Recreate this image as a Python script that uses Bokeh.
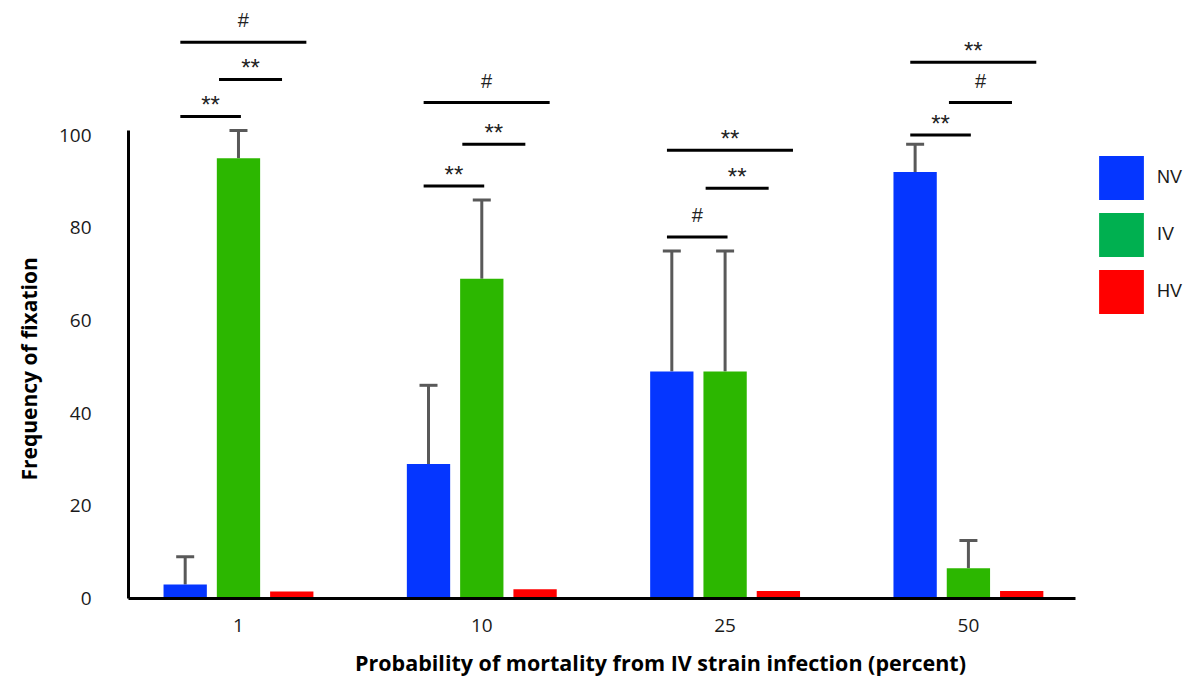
from bokeh.plotting import figure
from bokeh.models import (FixedTicker, Legend, LegendItem, ColumnDataSource,
                          Whisker, TeeHead, Range1d, Title)
from bokeh.embed import file_html
from bokeh.resources import INLINE

# ---------------- data ----------------
groups = ["1", "10", "25", "50"]
series = ["NV", "IV", "HV"]
nv = [3.0, 29.0, 49.0, 92.0]
iv = [95.0, 69.0, 49.0, 6.5]
hv = [1.5, 2.0, 1.6, 1.6]
nv_err = [6.0, 17.0, 26.0, 6.0]
iv_err = [6.0, 17.0, 26.0, 6.0]
y_ticks = [0, 20, 40, 60, 80, 100]

# significance brackets
sig_group = [0, 0, 0, 1, 1, 1, 2, 2, 2, 3, 3, 3]
sig_pair = ["NV-IV", "IV-HV", "NV-HV"] * 4
sig_level = [104, 112, 120, 89, 98, 107, 78, 88.5, 96.7, 100, 107, 115.7]
sig_label = ["**", "**", "#", "**", "**", "#", "#", "**", "**", "**", "#", "**"]

# ---------------- styling ----------------
bar_colors = {"NV": "#0536ff", "IV": "#2cb700", "HV": "#ff0000"}
legend_colors = {"NV": "#0536ff", "IV": "#00b050", "HV": "#ff0000"}
offset = {"NV": -0.219, "IV": 0.0, "HV": 0.219}
bar_w = 0.178
err_color = "#595959"
FONT = "Open Sans"
X_START, X_AXIS_END = -0.452, 3.44

p = figure(frame_width=1064, frame_height=590, output_backend="svg",
           toolbar_location=None, x_range=Range1d(X_START, 3.921),
           y_range=Range1d(0, 127.3))
p.min_border_left = 128
p.min_border_right = 0
p.min_border_top = 8
p.min_border_bottom = 79
p.outline_line_color = None
p.xgrid.grid_line_color = None
p.ygrid.grid_line_color = None
p.background_fill_color = "white"
p.border_fill_color = "white"

values = {"NV": nv, "IV": iv, "HV": hv}
errs = {"NV": nv_err, "IV": iv_err}
gx = list(range(len(groups)))

for s in series:
    xs = [g + offset[s] for g in gx]
    src = ColumnDataSource(dict(x=xs, top=values[s]))
    p.vbar(x="x", top="top", width=bar_w, bottom=0, source=src,
           fill_color=bar_colors[s], line_color=None)
    if s in errs:
        upper = [v + e for v, e in zip(values[s], errs[s])]
        esrc = ColumnDataSource(dict(x=xs, lower=values[s], upper=upper))
        w = Whisker(base="x", lower="lower", upper="upper", source=esrc,
                    dimension="height", line_color=err_color, line_width=3,
                    lower_head=None,
                    upper_head=TeeHead(size=18, line_color=err_color, line_width=3))
        p.add_layout(w)

# significance brackets
pair_rule = {"NV-IV": ("NV", -0.02, "IV", 0.01),
             "IV-HV": ("IV", -0.08, "HV", -0.04),
             "NV-HV": ("NV", -0.02, "HV", 0.06)}
x0s, x1s, ys, mids, labels = [], [], [], [], []
for g, pr, lv, lb in zip(sig_group, sig_pair, sig_level, sig_label):
    a, da, b, db = pair_rule[pr]
    x0 = g + offset[a] + da
    x1 = g + offset[b] + db
    x0s.append(x0); x1s.append(x1); ys.append(lv)
    mids.append((x0 + x1) / 2); labels.append(lb)
p.segment(x0=x0s, y0=ys, x1=x1s, y1=ys, line_color="black", line_width=3)
ast = [i for i, l in enumerate(labels) if l == "**"]
hsh = [i for i, l in enumerate(labels) if l == "#"]
p.text(x=[mids[i] for i in ast], y=[ys[i] for i in ast], text=[labels[i] for i in ast],
       y_offset=-12, text_align="center", text_baseline="alphabetic",
       text_font={"value": "Liberation Sans"}, text_font_size="24px", text_color="#222222")
p.text(x=[mids[i] for i in hsh], y=[ys[i] for i in hsh], text=[labels[i] for i in hsh],
       y_offset=-22, text_align="center", text_baseline="alphabetic",
       text_font={"value": "Liberation Sans"}, text_font_size="20px", text_color="#222222")

# axes
p.xaxis.ticker = FixedTicker(ticks=gx)
p.xaxis.major_label_overrides = {g: lab for g, lab in zip(gx, groups)}
p.xaxis.axis_label = "Probability of mortality from IV strain infection (percent)"
p.xaxis.bounds = (X_START, X_AXIS_END)
p.yaxis.ticker = FixedTicker(ticks=y_ticks)
p.yaxis.bounds = (0, 101)
for ax in (p.xaxis[0], p.yaxis[0]):
    ax.axis_line_color = "black"
    ax.axis_line_width = 3
    ax.major_tick_line_color = None
    ax.minor_tick_line_color = None
    ax.major_label_text_font = FONT
    ax.major_label_text_font_size = "19px"
    ax.major_label_text_color = "#1a1a1a"
    ax.axis_label_text_font = FONT
    ax.axis_label_text_font_style = "bold"
    ax.axis_label_text_color = "black"
p.xaxis.axis_label_text_font_size = "21.5px"
p.xaxis.major_label_standoff = 14
p.xaxis.axis_label_standoff = 13
p.yaxis.major_label_standoff = 31

# y-axis title, placed along the drawn part of the axis
ytitle = Title(text="Frequency of fixation", align="left", offset=118, standoff=25,
               text_font=FONT, text_font_size="21px", text_font_style="bold",
               text_color="black")
p.add_layout(ytitle, "left")

# legend (inside the extended frame, right of the x-axis end)
dummies = []
for s in series:
    r = p.vbar(x=[0], top=[0], width=0.1, fill_color=legend_colors[s],
               line_color=None, visible=False)
    dummies.append(r)
legend = Legend(items=[LegendItem(label=s, renderers=[r]) for s, r in zip(series, dummies)],
                location=(965, 279), glyph_width=56, glyph_height=55, spacing=2,
                label_standoff=8, padding=0, margin=0, border_line_color=None,
                background_fill_alpha=0, label_text_font="Liberation Sans",
                label_text_font_size="18px", label_text_color="#1a1a1a")
p.add_layout(legend)

open("out.html", "w").write(file_html(p, INLINE))
